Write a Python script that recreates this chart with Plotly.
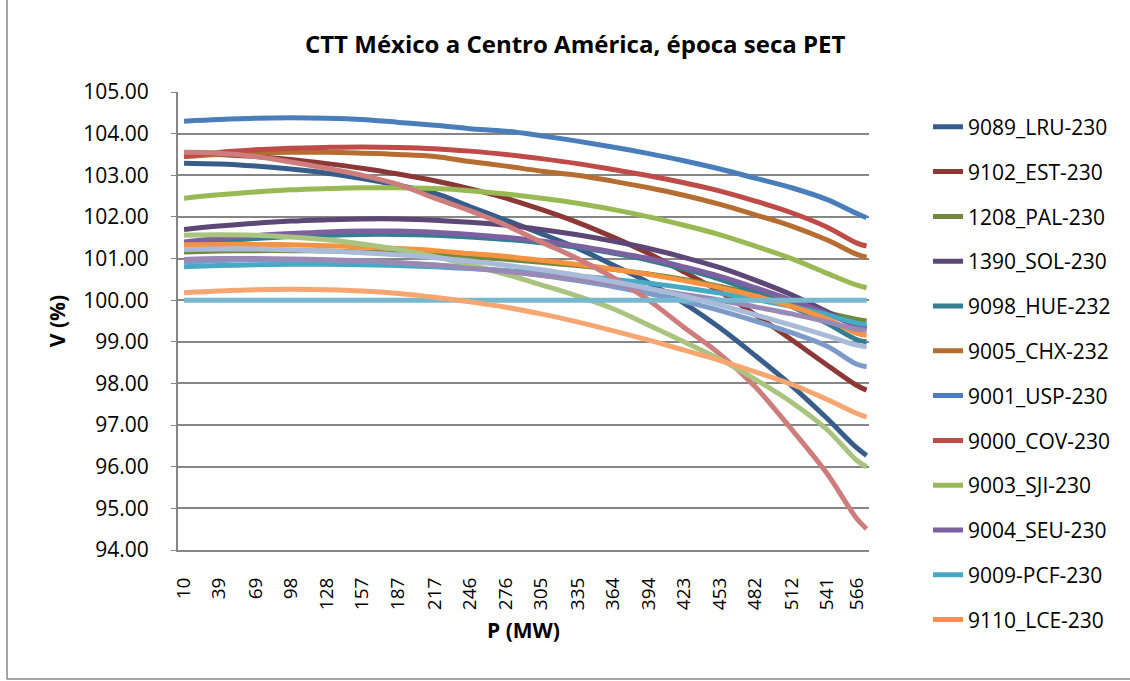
import plotly.graph_objects as go

# P (MW) values of the points; the last point has no tick label
P_MW = [10, 39, 69, 98, 128, 157, 187, 217, 246, 276, 305, 335, 364, 394, 423,
        453, 482, 512, 541, 566, 574]
tick_labels = ["10", "39", "69", "98", "128", "157", "187", "217", "246", "276",
               "305", "335", "364", "394", "423", "453", "482", "512", "541", "566"]

names = ["9089_LRU-230", "9102_EST-230", "1208_PAL-230", "1390_SOL-230",
         "9098_HUE-232", "9005_CHX-232", "9001_USP-230", "9000_COV-230",
         "9003_SJI-230", "9004_SEU-230", "9009-PCF-230", "9110_LCE-230",
         "S13", "S14", "S15", "S16", "S17", "S18", "S19"]

v_9089_LRU = [103.29, 103.27, 103.22, 103.15, 103.05, 102.92, 102.76, 102.57, 102.25, 101.92,
              101.60, 101.25, 100.85, 100.42, 99.93, 99.33, 98.67, 97.95, 97.17, 96.45, 96.27]
v_9102_EST = [103.50, 103.50, 103.45, 103.38, 103.28, 103.17, 103.03, 102.87, 102.68, 102.45,
              102.18, 101.87, 101.52, 101.12, 100.68, 100.20, 99.65, 99.05, 98.45, 97.95, 97.84]
v_1208_PAL = [101.16, 101.18, 101.19, 101.19, 101.18, 101.16, 101.13, 101.09, 101.04, 100.98,
              100.91, 100.83, 100.74, 100.63, 100.50, 100.33, 100.14, 99.92, 99.70, 99.54, 99.50]
v_1390_SOL = [101.70, 101.78, 101.85, 101.90, 101.93, 101.95, 101.95, 101.92, 101.87, 101.80,
              101.70, 101.57, 101.42, 101.24, 101.03, 100.78, 100.48, 100.13, 99.73, 99.38, 99.33]
v_9098_HUE = [101.35, 101.42, 101.48, 101.53, 101.56, 101.58, 101.58, 101.56, 101.52, 101.46,
              101.38, 101.27, 101.13, 100.96, 100.75, 100.50, 100.20, 99.85, 99.45, 99.05, 99.00]
v_9005_CHX = [103.45, 103.50, 103.53, 103.55, 103.55, 103.53, 103.50, 103.45, 103.33, 103.22,
              103.10, 103.00, 102.86, 102.70, 102.52, 102.30, 102.05, 101.78, 101.45, 101.10, 101.03]
v_9001_USP = [104.30, 104.34, 104.37, 104.38, 104.37, 104.34, 104.27, 104.20, 104.12, 104.06,
              103.95, 103.82, 103.68, 103.52, 103.35, 103.15, 102.93, 102.70, 102.42, 102.08, 101.98]
v_9000_COV = [103.45, 103.55, 103.61, 103.65, 103.67, 103.68, 103.67, 103.64, 103.58, 103.50,
              103.40, 103.28, 103.14, 102.99, 102.82, 102.62, 102.38, 102.10, 101.76, 101.37, 101.30]
v_9003_SJI = [102.45, 102.53, 102.60, 102.65, 102.68, 102.70, 102.70, 102.68, 102.63, 102.55,
              102.45, 102.33, 102.18, 102.00, 101.80, 101.57, 101.30, 101.00, 100.65, 100.36, 100.30]
v_9004_SEU = [101.40, 101.48, 101.55, 101.60, 101.64, 101.66, 101.66, 101.63, 101.58, 101.51,
              101.42, 101.30, 101.16, 101.00, 100.80, 100.57, 100.30, 100.00, 99.68, 99.38, 99.33]
v_9009_PCF = [100.80, 100.83, 100.85, 100.86, 100.86, 100.85, 100.83, 100.80, 100.76, 100.71,
              100.65, 100.58, 100.50, 100.41, 100.30, 100.17, 100.02, 99.85, 99.65, 99.45, 99.42]
v_9110_LCE = [101.33, 101.34, 101.34, 101.33, 101.31, 101.28, 101.24, 101.19, 101.12, 101.05,
              100.96, 100.86, 100.75, 100.62, 100.47, 100.30, 100.10, 99.85, 99.55, 99.20, 99.16]
v_s13 = [100.92, 100.95, 100.97, 100.97, 100.96, 100.94, 100.90, 100.85, 100.78, 100.70,
         100.60, 100.47, 100.33, 100.16, 99.97, 99.75, 99.50, 99.22, 98.90, 98.46, 98.40]
v_s14 = [103.55, 103.53, 103.45, 103.32, 103.17, 103.00, 102.78, 102.45, 102.15, 101.80,
         101.40, 101.00, 100.55, 100.00, 99.35, 98.70, 97.92, 96.90, 95.85, 94.75, 94.51]
v_s15 = [101.56, 101.57, 101.56, 101.52, 101.45, 101.35, 101.22, 101.05, 100.85, 100.62,
         100.37, 100.10, 99.80, 99.40, 99.00, 98.58, 98.10, 97.55, 96.90, 96.15, 96.00]
v_s16 = [100.98, 101.00, 101.00, 100.99, 100.97, 100.94, 100.90, 100.84, 100.77, 100.69,
         100.60, 100.50, 100.39, 100.27, 100.14, 100.00, 99.84, 99.67, 99.48, 99.30, 99.28]
v_s17 = [100.00, 100.00, 100.00, 100.00, 100.00, 100.00, 100.00, 100.00, 100.00, 100.00,
         100.00, 100.00, 100.00, 100.00, 100.00, 100.00, 100.00, 100.00, 100.00, 100.00, 100.00]
v_s18 = [100.18, 100.22, 100.25, 100.26, 100.25, 100.22, 100.16, 100.07, 99.96, 99.83,
         99.67, 99.48, 99.27, 99.04, 98.80, 98.55, 98.28, 97.98, 97.62, 97.28, 97.19]
v_s19 = [101.22, 101.23, 101.23, 101.21, 101.18, 101.14, 101.09, 101.02, 100.94, 100.84,
         100.73, 100.60, 100.45, 100.28, 100.10, 99.88, 99.65, 99.40, 99.15, 98.92, 98.88]

series = [v_9089_LRU, v_9102_EST, v_1208_PAL, v_1390_SOL, v_9098_HUE, v_9005_CHX,
          v_9001_USP, v_9000_COV, v_9003_SJI, v_9004_SEU, v_9009_PCF, v_9110_LCE,
          v_s13, v_s14, v_s15, v_s16, v_s17, v_s18, v_s19]

colors = ["#385D8A", "#8C3836", "#71893F", "#5C4776", "#357D91", "#B66D31",
          "#4A7EBB", "#BE4B48", "#98B954", "#7D60A0", "#46AAC5", "#F69240",
          "#7D9BC9", "#CD7D7B", "#A9C47F", "#9B89B5", "#78B8CE", "#F8A671", "#A9BBD8"]

FONT = "Open Sans"
fig = go.Figure()
for i, (nm, vals, col) in enumerate(zip(names, series, colors)):
    fig.add_trace(go.Scatter(
        x=P_MW, y=vals, name=nm, mode="lines",
        line=dict(color=col, width=5, shape="spline", smoothing=1.0),
        showlegend=i < 12, legendgroup=nm,
    ))

fig.update_layout(
    width=1130, height=681,
    margin=dict(l=178, r=261, t=92, b=131),
    paper_bgcolor="white", plot_bgcolor="white",
    font=dict(family=FONT, size=20, color="black"),
    title=dict(text="<b>CTT México a Centro América, época seca PET</b>",
               x=0.509, xref="container", xanchor="center", y=0.934, yanchor="middle",
               font=dict(family=FONT, size=24, color="black")),
    legend=dict(x=1.0854, y=0.968, xanchor="left", yanchor="top",
                font=dict(family=FONT, size=21), tracegroupgap=14.5,
                traceorder="grouped", bgcolor="rgba(0,0,0,0)", maxheight=640),
    showlegend=True,
)
fig.update_xaxes(
    range=[5, 576], tickmode="array", tickvals=P_MW[:-1], ticktext=tick_labels,
    tickangle=-90, showgrid=False, showline=True, linecolor="#868686", linewidth=2,
    ticks="", ticklabelstandoff=18, zeroline=False,
    tickfont=dict(family=FONT, size=19),
    title=dict(text="<b>P (MW)</b>", font=dict(family=FONT, size=21), standoff=14),
)
fig.update_yaxes(
    range=[94, 105], dtick=1, tick0=94, tickformat=".2f",
    showgrid=True, gridcolor="#868686", gridwidth=1.5,
    showline=True, linecolor="#868686", linewidth=2,
    ticks="outside", ticklen=5, tickcolor="#868686", ticklabelstandoff=18,
    zeroline=False, tickfont=dict(family=FONT, size=21),
    title=dict(text="<b>V (%)</b>", font=dict(family=FONT, size=21), standoff=12),
)
# chart-area border (left and bottom edges visible in the reference)
fig.add_shape(type="line", xref="paper", yref="paper",
              x0=(7 - 178) / 691, x1=(7 - 178) / 691,
              y0=(550 - 679) / 458, y1=(550 - 0) / 458,
              line=dict(color="#868686", width=1.5), layer="below")
fig.add_shape(type="line", xref="paper", yref="paper",
              x0=(7 - 178) / 691, x1=(1130 - 178) / 691,
              y0=(550 - 679) / 458, y1=(550 - 679) / 458,
              line=dict(color="#868686", width=1.5), layer="below")
fig.write_html("out.html")
